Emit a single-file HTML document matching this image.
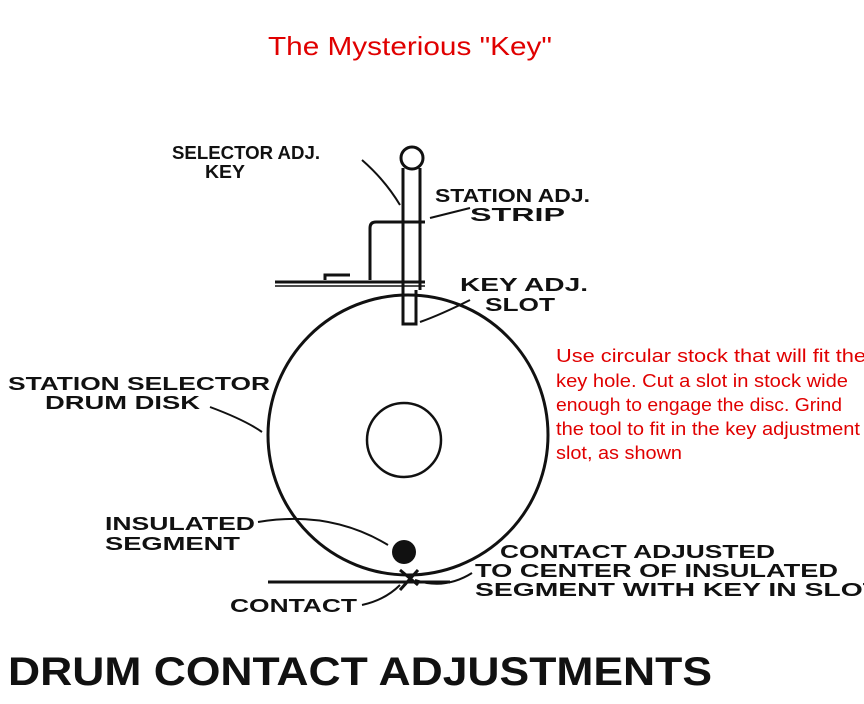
<!DOCTYPE html>
<html><head><meta charset="utf-8"><style>
html,body{margin:0;padding:0;background:#fff;width:864px;height:704px;overflow:hidden}
svg{display:block}
.l{font-family:"Liberation Sans",sans-serif;font-weight:bold;fill:#111}
</style></head><body>
<svg width="864" height="704" viewBox="0 0 864 704">
<text x="268" y="55" textLength="284" lengthAdjust="spacingAndGlyphs" font-family="Liberation Sans, sans-serif" font-size="26" fill="#e00000">The Mysterious "Key"</text>
<g fill="none" stroke="#111" stroke-width="3">
<circle cx="408" cy="435" r="140"/>
<circle cx="404" cy="440" r="37" stroke-width="2.5"/>
<circle cx="412" cy="158" r="11"/>
<line x1="403" y1="168" x2="403" y2="290"/>
<line x1="420" y1="168" x2="420" y2="290"/>
<path d="M370 280 L370 228 Q370 222 376 222 L425 222"/>
<line x1="275" y1="282" x2="425" y2="282"/>
<line x1="275" y1="286" x2="425" y2="286" stroke-width="1.5"/>
<path d="M325 280 L325 275 L350 275"/>
<path d="M403 290 L403 324 L416 324 L416 290"/>
<line x1="268" y1="582" x2="450" y2="582"/>
<path d="M362 160 Q385 180 400 205" stroke-width="2"/>
<path d="M430 218 L470 208" stroke-width="2"/>
<path d="M420 322 Q440 315 470 300" stroke-width="2"/>
<path d="M210 407 Q245 420 262 432" stroke-width="2"/>
<path d="M258 522 Q330 510 388 545" stroke-width="2"/>
<path d="M362 605 Q385 600 400 585" stroke-width="2"/>
<path d="M415 580 Q445 590 472 573" stroke-width="2"/>
<path d="M400 570 L418 585 M418 570 L400 590"/>
</g>
<circle cx="404" cy="552" r="12" fill="#111"/>
<g class="l" font-size="18">
<text x="172" y="159" textLength="148" lengthAdjust="spacingAndGlyphs">SELECTOR ADJ.</text>
<text x="205" y="178" textLength="40" lengthAdjust="spacingAndGlyphs">KEY</text>
<text x="435" y="202" textLength="155" lengthAdjust="spacingAndGlyphs">STATION ADJ.</text>
<text x="470" y="221" textLength="95" lengthAdjust="spacingAndGlyphs">STRIP</text>
<text x="460" y="291" textLength="128" lengthAdjust="spacingAndGlyphs">KEY ADJ.</text>
<text x="485" y="311" textLength="70" lengthAdjust="spacingAndGlyphs">SLOT</text>
<text x="8" y="390" textLength="262" lengthAdjust="spacingAndGlyphs">STATION SELECTOR</text>
<text x="45" y="409" textLength="155" lengthAdjust="spacingAndGlyphs">DRUM DISK</text>
<text x="105" y="530" textLength="150" lengthAdjust="spacingAndGlyphs">INSULATED</text>
<text x="105" y="550" textLength="135" lengthAdjust="spacingAndGlyphs">SEGMENT</text>
<text x="500" y="558" textLength="275" lengthAdjust="spacingAndGlyphs">CONTACT ADJUSTED</text>
<text x="475" y="577" textLength="363" lengthAdjust="spacingAndGlyphs">TO CENTER OF INSULATED</text>
<text x="475" y="596" textLength="405" lengthAdjust="spacingAndGlyphs">SEGMENT WITH KEY IN SLOT</text>
<text x="230" y="612" textLength="127" lengthAdjust="spacingAndGlyphs">CONTACT</text>
</g>
<text class="l" x="8" y="685" font-size="40" textLength="704" lengthAdjust="spacingAndGlyphs">DRUM CONTACT ADJUSTMENTS</text>
<g font-family="Liberation Sans, sans-serif" font-size="18" fill="#e00000" lengthAdjust="spacingAndGlyphs">
<text x="556" y="362" textLength="310" lengthAdjust="spacingAndGlyphs">Use circular stock that will fit the</text>
<text x="556" y="387" textLength="292" lengthAdjust="spacingAndGlyphs">key hole.  Cut a slot in stock wide</text>
<text x="556" y="411" textLength="286" lengthAdjust="spacingAndGlyphs">enough to engage the disc.  Grind</text>
<text x="556" y="435" textLength="304" lengthAdjust="spacingAndGlyphs">the tool to fit in the key adjustment</text>
<text x="556" y="459" textLength="126" lengthAdjust="spacingAndGlyphs">slot, as shown</text>
</g>
</svg>
</body></html>
